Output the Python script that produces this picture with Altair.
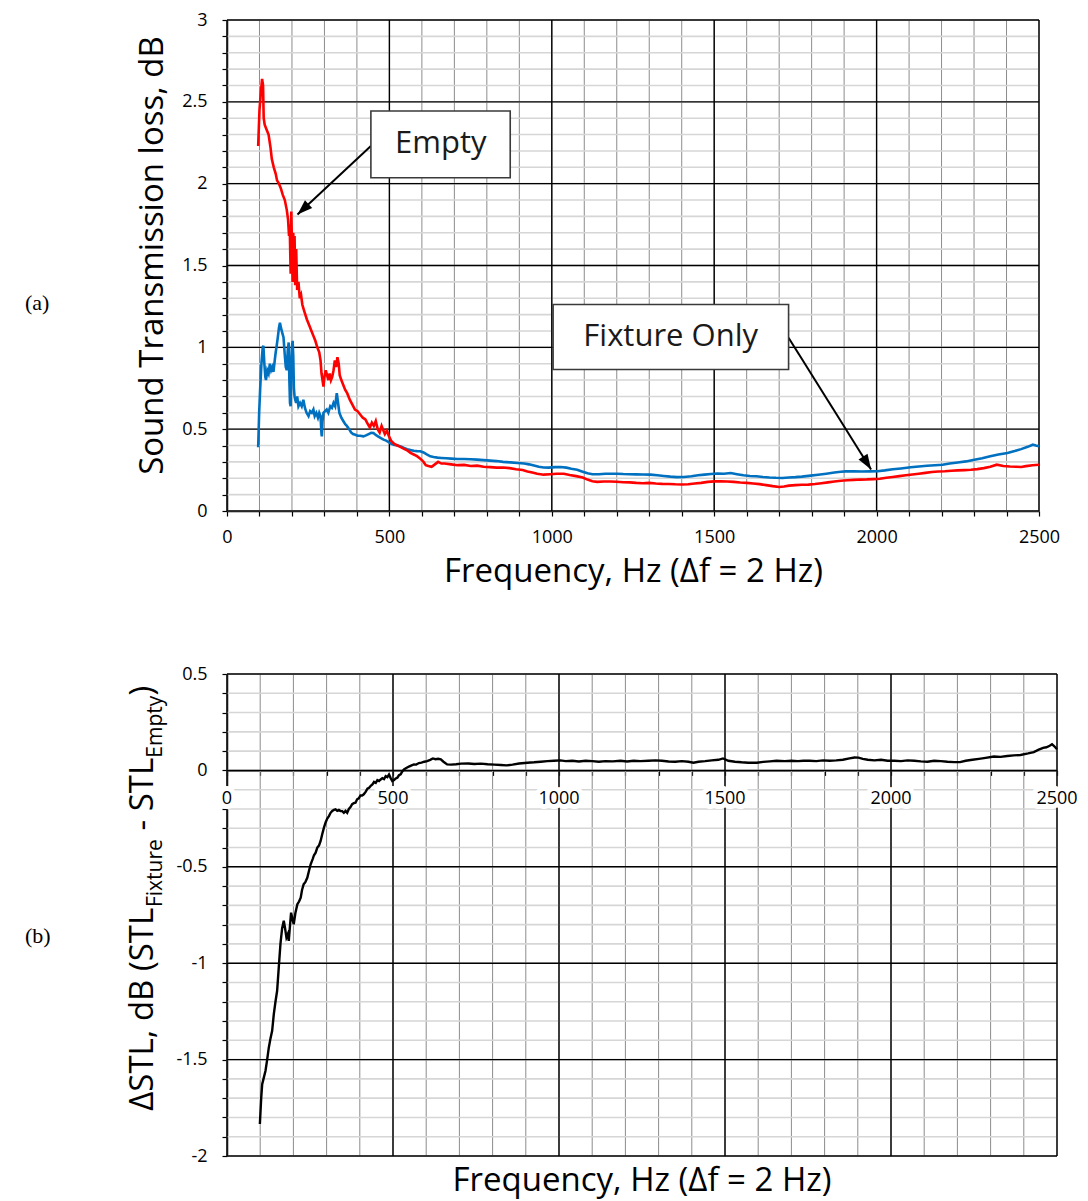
import math
import altair as alt
import pandas as pd

# ---------------- data ----------------
EMPTY_F = [96, 100, 104, 108, 111, 113, 116, 122, 128, 134, 138, 144, 150, 154, 160, 166, 172, 178, 184, 188,
           191, 193, 196, 198, 200, 202, 204, 206, 208, 210, 213, 216, 220, 224, 228, 232, 238, 246, 254, 260,
           266, 272, 278, 284, 288, 291, 294, 297, 300, 304, 308, 312, 316, 320, 324, 328, 332, 336, 340, 344,
           347, 352, 358, 364, 370, 378, 386, 394, 402, 410, 418, 426, 434, 440, 446, 452, 458, 464, 470, 476,
           480, 486, 492, 498, 505, 515, 525, 535, 545, 555, 565, 575, 585, 595, 605, 612, 620, 630, 640, 650,
           660, 670, 690, 710, 730, 750, 770, 790, 810, 830, 850, 870, 890, 910, 925, 940, 955, 975, 995, 1015,
           1037, 1055, 1075, 1095, 1110, 1125, 1140, 1160, 1180, 1200, 1220, 1240, 1260, 1280, 1300, 1320, 1340,
           1360, 1380, 1400, 1420, 1440, 1460, 1480, 1500, 1520, 1540, 1560, 1580, 1600, 1620, 1640, 1660, 1680,
           1700, 1715, 1730, 1750, 1770, 1790, 1810, 1830, 1850, 1870, 1890, 1910, 1930, 1950, 1970, 1990, 2010,
           2030, 2050, 2070, 2090, 2110, 2130, 2150, 2170, 2190, 2210, 2230, 2250, 2270, 2290, 2310, 2330, 2350,
           2370, 2390, 2410, 2430, 2445, 2460, 2480, 2500]
EMPTY_STL = [2.23, 2.45, 2.55, 2.64, 2.60, 2.40, 2.36, 2.33, 2.30, 2.22, 2.15, 2.10, 2.06, 2.02, 2.00, 1.97, 1.93,
             1.90, 1.84, 1.78, 1.68, 1.75, 1.45, 1.83, 1.62, 1.40, 1.70, 1.45, 1.68, 1.38, 1.60, 1.35, 1.40, 1.30,
             1.32, 1.26, 1.22, 1.17, 1.13, 1.10, 1.07, 1.04, 1.00, 0.97, 0.92, 0.84, 0.80, 0.76, 0.82, 0.86, 0.83,
             0.80, 0.84, 0.80, 0.82, 0.86, 0.92, 0.88, 0.94, 0.90, 0.83, 0.80, 0.77, 0.74, 0.72, 0.68, 0.65, 0.62,
             0.61, 0.59, 0.57, 0.56, 0.53, 0.51, 0.54, 0.52, 0.55, 0.50, 0.48, 0.52, 0.50, 0.47, 0.49, 0.46, 0.43,
             0.41, 0.40, 0.39, 0.38, 0.37, 0.355, 0.345, 0.335, 0.32, 0.30, 0.28, 0.275, 0.27, 0.285, 0.30, 0.29,
             0.29, 0.285, 0.28, 0.282, 0.275, 0.277, 0.27, 0.268, 0.265, 0.266, 0.262, 0.255, 0.25, 0.242, 0.235,
             0.228, 0.222, 0.225, 0.228, 0.228, 0.22, 0.213, 0.205, 0.192, 0.182, 0.178, 0.18, 0.18, 0.179, 0.176,
             0.175, 0.172, 0.17, 0.172, 0.168, 0.166, 0.165, 0.163, 0.162, 0.163, 0.168, 0.172, 0.178, 0.181, 0.181,
             0.18, 0.178, 0.174, 0.172, 0.168, 0.164, 0.158, 0.152, 0.147, 0.15, 0.155, 0.158, 0.16, 0.161, 0.165,
             0.17, 0.175, 0.18, 0.185, 0.188, 0.19, 0.192, 0.193, 0.195, 0.197, 0.203, 0.208, 0.213, 0.218, 0.223,
             0.228, 0.233, 0.238, 0.241, 0.243, 0.246, 0.248, 0.25, 0.252, 0.256, 0.262, 0.27, 0.283, 0.275, 0.272,
             0.27, 0.269, 0.274, 0.28, 0.283]

FIXTURE_F = [96, 99, 102, 106, 110, 112, 115, 118, 120, 124, 128, 132, 136, 140, 143, 147, 150, 153, 157, 160,
             163, 166, 170, 174, 178, 181, 184, 187, 190, 192, 194, 196, 198, 200, 202, 204, 206, 208, 210, 213,
             216, 220, 225, 230, 235, 240, 245, 251, 256, 261, 266, 270, 275, 280, 284, 288, 291, 292, 294, 297,
             302, 307, 312, 318, 323, 328, 333, 338, 342, 346, 352, 358, 364, 369, 376, 382, 388, 395, 402, 410,
             420, 428, 436, 444, 451, 458, 466, 474, 482, 490, 498, 506, 513, 525, 535, 545, 555, 565, 575, 585,
             595, 605, 615, 626, 636, 648, 660, 675, 690, 710, 730, 750, 770, 790, 810, 830, 850, 872, 895, 915,
             930, 945, 960, 975, 990, 1010, 1027, 1045, 1060, 1078, 1095, 1110, 1125, 1145, 1165, 1185, 1201, 1220,
             1240, 1260, 1280, 1304, 1325, 1345, 1365, 1385, 1407, 1430, 1450, 1470, 1490, 1510, 1530, 1551, 1570,
             1590, 1610, 1630, 1650, 1670, 1690, 1710, 1730, 1750, 1770, 1797, 1820, 1845, 1870, 1890, 1905, 1930,
             1955, 1980, 2003, 2025, 2050, 2075, 2105, 2130, 2155, 2180, 2203, 2225, 2250, 2275, 2301, 2325, 2350,
             2375, 2403, 2425, 2445, 2465, 2481, 2490, 2500]
FIXTURE_STL = [0.39, 0.60, 0.74, 0.90, 1.00, 1.01, 0.90, 0.82, 0.80, 0.86, 0.84, 0.90, 0.86, 0.88, 0.85, 0.92,
               0.97, 1.01, 1.07, 1.12, 1.15, 1.12, 1.09, 1.06, 0.95, 0.88, 0.86, 0.98, 1.03, 0.80, 0.66, 0.64,
               0.90, 1.00, 1.04, 0.95, 0.75, 0.70, 0.68, 0.66, 0.70, 0.64, 0.66, 0.64, 0.68, 0.63, 0.60, 0.58,
               0.61, 0.60, 0.62, 0.58, 0.60, 0.57, 0.60, 0.58, 0.47, 0.456, 0.55, 0.60, 0.61, 0.62, 0.60, 0.64,
               0.63, 0.66, 0.64, 0.72, 0.66, 0.60, 0.57, 0.55, 0.53, 0.52, 0.50, 0.48, 0.47, 0.466, 0.46, 0.46,
               0.456, 0.462, 0.47, 0.478, 0.476, 0.465, 0.455, 0.445, 0.436, 0.43, 0.42, 0.41, 0.405, 0.40, 0.395,
               0.385, 0.378, 0.372, 0.368, 0.366, 0.365, 0.358, 0.346, 0.334, 0.33, 0.326, 0.324, 0.322, 0.32,
               0.318, 0.318, 0.316, 0.314, 0.311, 0.308, 0.305, 0.30, 0.297, 0.293, 0.29, 0.285, 0.278, 0.27,
               0.266, 0.265, 0.268, 0.269, 0.265, 0.258, 0.252, 0.24, 0.23, 0.225, 0.225, 0.228, 0.228, 0.228,
               0.226, 0.225, 0.224, 0.223, 0.222, 0.218, 0.214, 0.21, 0.207, 0.208, 0.212, 0.218, 0.222, 0.226,
               0.229, 0.228, 0.232, 0.225, 0.218, 0.214, 0.212, 0.208, 0.205, 0.203, 0.202, 0.205, 0.207, 0.21,
               0.216, 0.222, 0.228, 0.235, 0.24, 0.242, 0.242, 0.241, 0.242, 0.243, 0.248, 0.255, 0.26, 0.267,
               0.272, 0.276, 0.28, 0.283, 0.29, 0.296, 0.303, 0.313, 0.322, 0.334, 0.345, 0.354, 0.366, 0.378,
               0.392, 0.405, 0.40, 0.395]

DELTA_F = [99, 103, 106, 110, 116, 121, 126, 131, 136, 141, 146, 151, 156, 161, 166, 171, 175, 179, 183, 186,
           190, 193, 197, 201, 206, 212, 217, 222, 226, 231, 236, 242, 247, 252, 258, 262, 267, 272, 277, 282,
           287, 292, 297, 302, 307, 312, 317, 322, 327, 332, 337, 342, 347, 352, 357, 362, 367, 372, 377, 382,
           387, 392, 397, 402, 407, 412, 418, 423, 428, 433, 438, 443, 448, 453, 458, 463, 468, 473, 478, 483,
           488, 493, 498, 503, 508, 513, 518, 523, 528, 533, 540, 548, 556, 563, 570, 578, 586, 594, 603, 612,
           620, 628, 636, 644, 652, 663, 675, 690, 705, 727, 745, 765, 785, 805, 825, 842, 860, 880, 905, 925,
           945, 965, 985, 1004, 1020, 1040, 1060, 1080, 1100, 1120, 1140, 1162, 1185, 1205, 1225, 1245, 1270,
           1290, 1310, 1330, 1350, 1370, 1390, 1405, 1420, 1440, 1460, 1480, 1494, 1510, 1530, 1550, 1570, 1596,
           1615, 1635, 1655, 1680, 1700, 1720, 1736, 1755, 1775, 1795, 1815, 1835, 1855, 1875, 1890, 1902, 1915,
           1930, 1950, 1970, 1990, 2010, 2030, 2050, 2070, 2090, 2110, 2130, 2150, 2170, 2190, 2208, 2225, 2245,
           2265, 2285, 2310, 2330, 2350, 2370, 2390, 2413, 2430, 2445, 2458, 2468, 2478, 2485, 2492, 2500]
DELTA_STL = [-1.834, -1.70, -1.627, -1.60, -1.558, -1.50, -1.437, -1.39, -1.351, -1.264, -1.20, -1.143, -1.02,
             -0.90, -0.82, -0.78, -0.82, -0.867, -0.85, -0.884, -0.80, -0.738, -0.77, -0.798, -0.74, -0.694,
             -0.68, -0.66, -0.62, -0.59, -0.58, -0.556, -0.52, -0.487, -0.46, -0.44, -0.427, -0.40, -0.39,
             -0.366, -0.33, -0.297, -0.27, -0.25, -0.237, -0.22, -0.21, -0.205, -0.202, -0.21, -0.205, -0.211,
             -0.211, -0.22, -0.21, -0.22, -0.20, -0.19, -0.175, -0.17, -0.168, -0.15, -0.145, -0.13, -0.13,
             -0.124, -0.11, -0.095, -0.09, -0.08, -0.073, -0.06, -0.065, -0.05, -0.055, -0.047, -0.04, -0.045,
             -0.03, -0.035, -0.021, -0.04, -0.055, -0.05, -0.042, -0.038, -0.025, -0.02, -0.005, 0.005, 0.012,
             0.02, 0.026, 0.031, 0.03, 0.038, 0.04, 0.045, 0.048, 0.055, 0.062, 0.058, 0.06, 0.057, 0.045, 0.031,
             0.03, 0.032, 0.035, 0.036, 0.033, 0.035, 0.032, 0.03, 0.028, 0.026, 0.03, 0.036, 0.04, 0.042, 0.045,
             0.048, 0.05, 0.052, 0.048, 0.05, 0.046, 0.05, 0.048, 0.045, 0.048, 0.047, 0.05, 0.046, 0.05, 0.048,
             0.05, 0.052, 0.05, 0.046, 0.045, 0.048, 0.045, 0.04, 0.045, 0.048, 0.052, 0.055, 0.062, 0.05, 0.045,
             0.042, 0.04, 0.04, 0.044, 0.047, 0.05, 0.048, 0.05, 0.048, 0.05, 0.05, 0.048, 0.052, 0.05, 0.052,
             0.055, 0.062, 0.067, 0.066, 0.06, 0.055, 0.052, 0.055, 0.05, 0.05, 0.048, 0.052, 0.05, 0.047, 0.045,
             0.05, 0.048, 0.045, 0.043, 0.043, 0.05, 0.055, 0.06, 0.065, 0.072, 0.07, 0.075, 0.078, 0.08, 0.088,
             0.095, 0.108, 0.117, 0.12, 0.128, 0.136, 0.125, 0.11]

# tick values
X_TICKS = list(range(0, 2501, 100))
X_LABELED = list(range(0, 2501, 500))
YA_TICKS = [round(0.1 * i, 1) for i in range(31)]
YA_MAJOR = [0, 0.5, 1, 1.5, 2, 2.5, 3]
YB_TICKS = [round(-2 + 0.1 * i, 1) for i in range(26)]
YB_MAJOR = [-2, -1.5, -1, -0.5, 0, 0.5]

# annotations (data coordinates of panel a)
BOX_LABELS = ["Empty", "Fixture Only"]
BOX_X1 = [443, 1004]
BOX_X2 = [872, 1729]
BOX_Y1 = [2.444, 1.262]
BOX_Y2 = [2.036, 0.865]
BOX_TX = [658, 1366]
BOX_TY = [2.241, 1.065]
ARROW_X1 = [443, 1729]
ARROW_Y1 = [2.23, 1.059]
ARROW_X2 = [217, 1983]
ARROW_Y2 = [1.812, 0.254]

# ---------------- styling ----------------
FONT = "Open Sans"
W_A, H_A = 812, 491
W_B, H_B = 830, 482
RED = "#ff0000"
BLUE = "#0070c0"
MINOR_V = "#8c8c8c"
MINOR_H = "#d6d6d6"

xa_scale = alt.Scale(domain=[0, 2500], nice=False, zero=False)
ya_scale = alt.Scale(domain=[0, 3], nice=False, zero=False)
yb_scale = alt.Scale(domain=[-2, 0.5], nice=False, zero=False)

LX = "datum.value % 500 === 0 ? '' + datum.value : ''"
LY = "abs(datum.value * 2 - round(datum.value * 2)) < 0.000001 ? '' + datum.value : ''"

common_axis = dict(grid=False, domainColor="black", domainWidth=1.5, tickColor="black", tickWidth=1.2,
                   tickSize=5, labelFont=FONT, labelFontSize=18, labelColor="black", labelOverlap=False,
                   labelFlush=False, labelBound=False, titleFont=FONT, titleFontSize=33,
                   titleFontWeight="normal", titleColor="black")

ax_xa = alt.Axis(values=X_TICKS, labelExpr=LX, title="Frequency, Hz (\u0394f = 2 Hz)", labelPadding=12,
                 titlePadding=9, **common_axis)
ax_ya = alt.Axis(values=YA_TICKS, labelExpr=LY, title="Sound Transmission loss, dB", labelPadding=15,
                 titlePadding=12, titleY=235, **common_axis)
ax_xb = alt.Axis(values=X_TICKS, labels=False, title=None, offset=-H_B * 2.0 / 2.5, **common_axis)
ax_yb = alt.Axis(values=YB_TICKS, labelExpr=LY, title=None, labelPadding=15, **common_axis)


def grid(xs, ys, xscale, yscale, xaxis, yaxis, ymajor):
    vmin = alt.Chart(pd.DataFrame({"x": xs})).mark_rule(color=MINOR_V, strokeWidth=1).encode(
        x=alt.X("x:Q", scale=xscale, axis=xaxis))
    hmin = alt.Chart(pd.DataFrame({"y": ys})).mark_rule(color=MINOR_H, strokeWidth=1.6).encode(
        y=alt.Y("y:Q", scale=yscale, axis=yaxis))
    vmaj = alt.Chart(pd.DataFrame({"x": X_LABELED})).mark_rule(color="black", strokeWidth=1.4).encode(
        x=alt.X("x:Q", scale=xscale, axis=xaxis))
    hmaj = alt.Chart(pd.DataFrame({"y": ymajor})).mark_rule(color="black", strokeWidth=1.4).encode(
        y=alt.Y("y:Q", scale=yscale, axis=yaxis))
    return [vmin, hmin, vmaj, hmaj]


# ---------------- panel (a) ----------------
empty_df = pd.DataFrame({"x": EMPTY_F, "y": EMPTY_STL})
fix_df = pd.DataFrame({"x": FIXTURE_F, "y": FIXTURE_STL})

line_fix = alt.Chart(fix_df).mark_line(color=BLUE, strokeWidth=2.6).encode(
    x=alt.X("x:Q", scale=xa_scale, axis=ax_xa), y=alt.Y("y:Q", scale=ya_scale, axis=ax_ya))
line_empty = alt.Chart(empty_df).mark_line(color=RED, strokeWidth=2.6).encode(
    x=alt.X("x:Q", scale=xa_scale, axis=ax_xa), y=alt.Y("y:Q", scale=ya_scale, axis=ax_ya))

box_df = pd.DataFrame({"x": BOX_X1, "x2": BOX_X2, "y": BOX_Y1, "y2": BOX_Y2,
                       "tx": BOX_TX, "ty": BOX_TY, "t": BOX_LABELS})
boxes = alt.Chart(box_df).mark_rect(fill="white", stroke="#3a3a3a", strokeWidth=1.6).encode(
    x=alt.X("x:Q", scale=xa_scale, axis=ax_xa), x2="x2:Q",
    y=alt.Y("y:Q", scale=ya_scale, axis=ax_ya), y2="y2:Q")
box_text = alt.Chart(box_df).mark_text(font=FONT, fontSize=31, color="#1a1a1a").encode(
    x=alt.X("tx:Q", scale=xa_scale, axis=ax_xa), y=alt.Y("ty:Q", scale=ya_scale, axis=ax_ya), text="t:N")

angles = []
for x1, y1, x2, y2 in zip(ARROW_X1, ARROW_Y1, ARROW_X2, ARROW_Y2):
    dx = (x2 - x1) * W_A / 2500.0
    dy = -(y2 - y1) * H_A / 3.0
    angles.append((math.degrees(math.atan2(dx, -dy)) + 360) % 360)
arrow_df = pd.DataFrame({"x": ARROW_X1, "y": ARROW_Y1, "x2": ARROW_X2, "y2": ARROW_Y2, "ang": angles})
arrow_lines = alt.Chart(arrow_df).mark_rule(color="black", strokeWidth=2).encode(
    x=alt.X("x:Q", scale=xa_scale, axis=ax_xa), x2="x2:Q",
    y=alt.Y("y:Q", scale=ya_scale, axis=ax_ya), y2="y2:Q")
arrow_heads = alt.Chart(arrow_df).mark_point(shape="M0,0L-0.7,2L0.7,2Z", filled=True, color="black",
                                             opacity=1, size=230).encode(
    x=alt.X("x2:Q", scale=xa_scale, axis=ax_xa), y=alt.Y("y2:Q", scale=ya_scale, axis=ax_ya),
    angle=alt.Angle("ang:Q", scale=None))

tag_a = alt.Chart(pd.DataFrame({"t": ["(a)"]})).mark_text(
    font="Liberation Serif", fontSize=22, color="black", align="left", baseline="middle").encode(
    x=alt.value(-202), y=alt.value(283), text="t:N")

panel_a = alt.layer(
    *grid(X_TICKS, YA_TICKS, xa_scale, ya_scale, ax_xa, ax_ya, YA_MAJOR),
    line_fix, line_empty, arrow_lines, arrow_heads, boxes, box_text, tag_a
).properties(width=W_A, height=H_A)

# ---------------- panel (b) ----------------
delta_df = pd.DataFrame({"x": DELTA_F, "y": DELTA_STL})
line_delta = alt.Chart(delta_df).mark_line(color="black", strokeWidth=2.4).encode(
    x=alt.X("x:Q", scale=xa_scale, axis=ax_xb), y=alt.Y("y:Q", scale=yb_scale, axis=ax_yb))

xlab_df = pd.DataFrame({"x": X_LABELED, "y": [0] * len(X_LABELED), "t": [str(v) for v in X_LABELED]})
xlab_halo = alt.Chart(xlab_df).mark_text(font=FONT, fontSize=18, dy=29, color="white", stroke="white",
                                         strokeWidth=10, strokeJoin="round").encode(
    x=alt.X("x:Q", scale=xa_scale, axis=ax_xb), y=alt.Y("y:Q", scale=yb_scale, axis=ax_yb), text="t:N")
xlab = alt.Chart(xlab_df).mark_text(font=FONT, fontSize=18, dy=29, color="black").encode(
    x=alt.X("x:Q", scale=xa_scale, axis=ax_xb), y=alt.Y("y:Q", scale=yb_scale, axis=ax_yb), text="t:N")

xtitle_b = alt.Chart(pd.DataFrame({"t": ["Frequency, Hz (\u0394f = 2 Hz)"]})).mark_text(
    font=FONT, fontSize=33, color="black", baseline="middle").encode(
    x=alt.value(W_B / 2), y=alt.value(H_B + 25), text="t:N")

# rotated y title with subscripts, built from pieces
OS_W = {"\u0394": 0.61, "S": 0.551, "T": 0.555, "L": 0.522, ",": 0.244, " ": 0.26, "d": 0.613, "B": 0.635,
        "(": 0.295, ")": 0.295, "-": 0.322, "F": 0.525, "i": 0.253, "x": 0.523, "t": 0.352, "u": 0.614,
        "r": 0.408, "e": 0.561, "E": 0.561, "m": 0.93, "p": 0.613, "y": 0.501}
MAIN, SUB = 33, 21
SEGMENTS = [("\u0394STL, dB (STL", MAIN, 0), ("Fixture", SUB, 1), (" - STL", MAIN, 0), ("Empty", SUB, 1), (")", MAIN, 0)]
widths = [sum(OS_W.get(c, 0.55) for c in s) * fs for s, fs, _ in SEGMENTS]
total = sum(widths)
center_y = 897 - 672.7
base_main = 152 - 226.5
base_sub = base_main + 9
pos = center_y + total / 2
seg_layers = []
for (s, fs, sub), w in zip(SEGMENTS, widths):
    lead = (len(s) - len(s.lstrip(" "))) * OS_W[" "] * fs
    seg_layers.append(
        alt.Chart(pd.DataFrame({"t": [s.strip()]})).mark_text(
            font=FONT, fontSize=fs, color="black", angle=270, align="left", baseline="alphabetic").encode(
            x=alt.value(base_sub if sub else base_main), y=alt.value(pos - lead), text="t:N"))
    pos -= w

tag_b = alt.Chart(pd.DataFrame({"t": ["(b)"]})).mark_text(
    font="Liberation Serif", fontSize=22, color="black", align="left", baseline="middle").encode(
    x=alt.value(-202), y=alt.value(262), text="t:N")

panel_b = alt.layer(
    *grid(X_TICKS, YB_TICKS, xa_scale, yb_scale, ax_xb, ax_yb, YB_MAJOR),
    line_delta, xlab_halo, xlab, xtitle_b, *seg_layers, tag_b
).properties(width=W_B, height=H_B)

chart = alt.vconcat(panel_a, panel_b, spacing=77).properties(
    padding={"left": 17, "top": 3, "right": 2, "bottom": 2}
).configure_view(strokeWidth=0)

chart.save("out.html", embed_options={"renderer": "svg", "actions": False})
